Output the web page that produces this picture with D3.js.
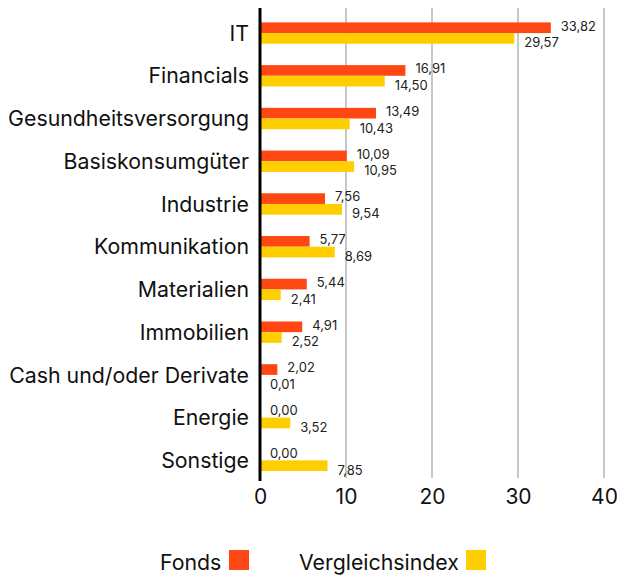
<!DOCTYPE html>
<html><head><meta charset="utf-8">
<script src="https://cdn.jsdelivr.net/npm/d3@7"></script>
<style>body{margin:0;background:#fff;}svg{display:block;font-family:Inter,"Noto Sans",sans-serif;}</style>
</head><body>
<script>
const categories = ["IT","Financials","Gesundheitsversorgung","Basiskonsumgüter","Industrie","Kommunikation","Materialien","Immobilien","Cash und/oder Derivate","Energie","Sonstige"];
const fonds = [33.82,16.91,13.49,10.09,7.56,5.77,5.44,4.91,2.02,0.00,0.00];
const index = [29.57,14.50,10.43,10.95,9.54,8.69,2.41,2.52,0.01,3.52,7.85];
const ticks = [0,10,20,30,40];
const seriesNames = ["Fonds","Vergleichsindex"];
const colors = ["#FF4713","#FFCE00"];

const W=617,H=576;
const svg=d3.select("body").append("svg").attr("width",W).attr("height",H);
const x=d3.scaleLinear().domain([0,40]).range([260,604]);
const y=d3.scaleBand().domain(categories).range([11.7,481.7]).paddingInner(0.5).paddingOuter(0.25);
const bh=y.bandwidth()/2;
const fmt=v=>v.toFixed(2).replace(".",",");

// gridlines
svg.append("g").selectAll("line").data(ticks.slice(1)).join("line")
 .attr("x1",d=>x(d)).attr("x2",d=>x(d)).attr("y1",8).attr("y2",478)
 .attr("stroke","#c8c8c8").attr("stroke-width",2);

// bars
const g=svg.append("g");
g.selectAll(".f").data(categories).join("rect").attr("class","f")
 .attr("x",x(0)).attr("y",d=>y(d)).attr("width",(d,i)=>x(fonds[i])-x(0)).attr("height",bh).attr("fill",colors[0]);
g.selectAll(".v").data(categories).join("rect").attr("class","v")
 .attr("x",x(0)).attr("y",d=>y(d)+bh).attr("width",(d,i)=>x(index[i])-x(0)).attr("height",bh).attr("fill",colors[1]);

// value labels
g.selectAll(".fl").data(categories).join("text").attr("class","fl")
 .attr("x",(d,i)=>x(fonds[i])+10).attr("y",d=>y(d)+bh-2.5)
 .attr("font-size",13).attr("fill","#222").text((d,i)=>fmt(fonds[i]));
g.selectAll(".vl").data(categories).join("text").attr("class","vl")
 .attr("x",(d,i)=>x(index[i])+10).attr("y",d=>y(d)+2*bh+3.5)
 .attr("font-size",13).attr("fill","#222").text((d,i)=>fmt(index[i]));

// zero line
svg.append("line").attr("x1",x(0)).attr("x2",x(0)).attr("y1",8).attr("y2",481)
 .attr("stroke","#000").attr("stroke-width",3);

// category labels
svg.append("g").selectAll("text").data(categories).join("text")
 .attr("x",249).attr("y",d=>y(d)+bh).attr("dy","0.36em").attr("text-anchor","end")
 .attr("font-size",21.3).attr("fill","#111").text(d=>d);

// x tick labels
const xa=svg.append("g").attr("transform","translate(0,485)")
 .call(d3.axisBottom(x).tickValues(ticks).tickSize(0).tickPadding(0).tickFormat(d3.format("d")));
xa.select(".domain").remove();
xa.selectAll("text").attr("font-size",21).attr("fill","#111").attr("font-family","Inter,'Noto Sans',sans-serif").attr("dy","0.9em");

// legend
const leg=[{name:seriesNames[0],tx:160,sx:229,c:colors[0]},{name:seriesNames[1],tx:299,sx:466,c:colors[1]}];
const lg=svg.append("g");
leg.forEach(l=>{
 lg.append("text").attr("x",l.tx).attr("y",570).attr("font-size",21.3).attr("fill","#111").text(l.name);
 lg.append("rect").attr("x",l.sx).attr("y",550).attr("width",20).attr("height",20).attr("fill",l.c);
});
</script>
</body></html>
